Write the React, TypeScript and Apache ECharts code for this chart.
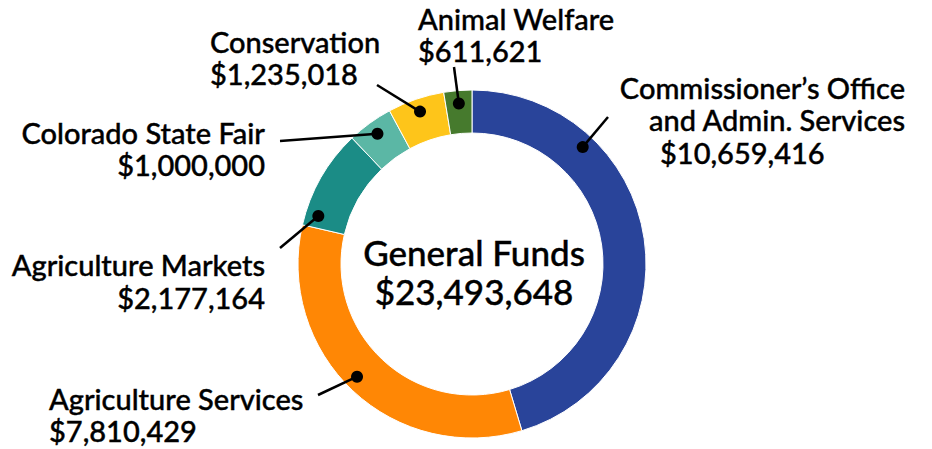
import React, { useEffect, useRef } from "react";
import * as echarts from "echarts";

// ---- data ----
const categories = [
  "Commissioner’s Office\nand Admin. Services",
  "Agriculture Services",
  "Agriculture Markets",
  "Colorado State Fair",
  "Conservation",
  "Animal Welfare",
];
const values = [10659416, 7810429, 2177164, 1000000, 1235018, 611621];
const centerTitle = "General Funds";
const totalValue = 23493648;

// ---- styles / layout (not data) ----
const colors = ["#29449A", "#FF8705", "#1B8C86", "#5BB7A5", "#FEC51A", "#467A2D"];
const FONT = "Lato, Roboto, sans-serif";
const CX = 472;
const CY = 264;
const R_IN = 131;
const R_OUT = 174;
const DOT_R = 161;

// where along each slice the leader dot sits (fraction of slice), line end point, and text line placement
const annot = [
  { frac: 0.266, end: [608, 117], lines: [[905, 87, "right"], [905, 119, "right"], [660, 152, "left"]] },
  { frac: 0.52, end: [318, 395], lines: [[49, 398, "left"], [49, 430, "left"]] },
  { frac: 0.13, end: [280, 248], lines: [[265, 264, "right"], [265, 297, "right"]] },
  { frac: 0.5, end: [280, 141], lines: [[265, 132, "right"], [265, 164, "right"]] },
  { frac: 0.5, end: [377, 85], lines: [[210, 41, "left"], [210, 73, "left"]] },
  { frac: 0.5, end: [454, 67], lines: [[418, 18, "left"], [418, 50, "left"]] },
];

const fmt = (v: number) => "$" + v.toLocaleString("en-US");

export default function App() {
  const ref = useRef<HTMLDivElement>(null);
  useEffect(() => {
    if (!ref.current) return;
    const chart = echarts.init(ref.current, undefined, { renderer: "svg" });
    const total = values.reduce((a, b) => a + b, 0);
    const graphics: any[] = [];
    let cum = 0;
    values.forEach((v, i) => {
      const a = annot[i];
      const theta = ((cum + a.frac * v) / total) * Math.PI * 2;
      cum += v;
      const dx = CX + DOT_R * Math.sin(theta);
      const dy = CY - DOT_R * Math.cos(theta);
      graphics.push({
        type: "line",
        shape: { x1: dx, y1: dy, x2: a.end[0], y2: a.end[1] },
        style: { stroke: "#000", lineWidth: 2.5 },
        z: 10,
      });
      graphics.push({
        type: "circle",
        shape: { cx: dx, cy: dy, r: 6 },
        style: { fill: "#000" },
        z: 11,
      });
      const texts = [...categories[i].split("\n"), fmt(v)];
      texts.forEach((t, j) => {
        const ln = a.lines[j];
        graphics.push({
          type: "text",
          x: ln[0],
          y: ln[1],
          style: {
            text: t,
            fill: "#000",
            font: `500 29px ${FONT}`,
            align: ln[2],
            verticalAlign: "middle",
            stroke: "#000",
            lineWidth: 0.4,
          },
          z: 12,
        });
      });
    });
    graphics.push({
      type: "text",
      x: CX + 2,
      y: 252,
      style: { text: centerTitle, fill: "#000", stroke: "#000", lineWidth: 0.4, font: `500 35px ${FONT}`, align: "center", verticalAlign: "middle" },
    });
    graphics.push({
      type: "text",
      x: CX + 2,
      y: 291,
      style: { text: fmt(totalValue), fill: "#000", stroke: "#000", lineWidth: 0.4, font: `500 35px ${FONT}`, align: "center", verticalAlign: "middle" },
    });

    chart.setOption({
      animation: false,
      backgroundColor: "#ffffff",
      series: [
        {
          type: "pie",
          center: [CX, CY],
          radius: [R_IN, R_OUT],
          startAngle: 90,
          clockwise: true,
          silent: true,
          label: { show: false },
          labelLine: { show: false },
          itemStyle: { borderColor: "#ffffff", borderWidth: 1 },
          data: values.map((v, i) => ({
            name: categories[i],
            value: v,
            itemStyle: { color: colors[i] },
          })),
        },
      ],
      graphic: graphics,
    });
    return () => chart.dispose();
  }, []);
  return (
    <div
      ref={ref}
      style={{ position: "fixed", left: 0, top: 0, width: 932, height: 449 }}
    />
  );
}
